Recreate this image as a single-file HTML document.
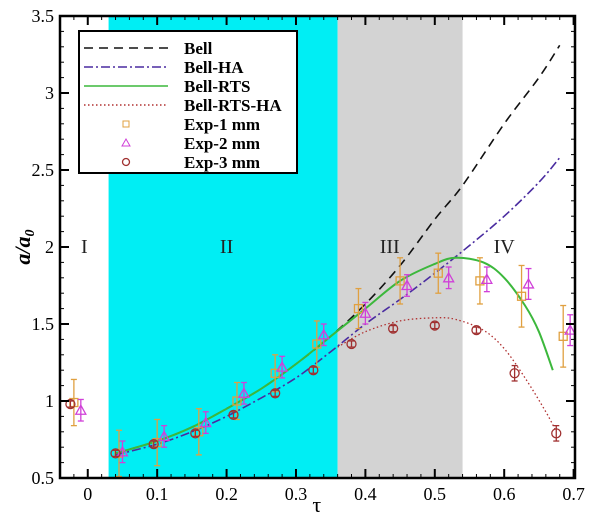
<!DOCTYPE html>
<html><head><meta charset="utf-8"><style>
body{margin:0;background:#fff;}
svg text{font-family:"Liberation Serif",serif;}
</style></head><body>
<svg width="600" height="521" viewBox="0 0 600 521" xmlns="http://www.w3.org/2000/svg">
<g id="bg"></g><g id="grid"></g><g id="curves"></g><g id="pts"></g><g id="axes"></g>
</svg>
<script>
const xTicks=[0,0.1,0.2,0.3,0.4,0.5,0.6,0.7];
const yTicks=[0.5,1,1.5,2,2.5,3,3.5];
const regions=[[0.03,0.36,'#00eef4'],[0.36,0.54,'#d3d3d3']];
const regionLabels=[['I',-0.005,2],['II',0.2,2],['III',0.435,2],['IV',0.6,2]];
const bellX=[0.04,0.1,0.15,0.2,0.25,0.3,0.35,0.4,0.45,0.5,0.54,0.6,0.65,0.68];
const bellY=[0.66,0.74,0.83,0.95,1.08,1.24,1.42,1.63,1.88,2.18,2.4,2.8,3.1,3.31];
const haX=[0.04,0.1,0.15,0.2,0.25,0.3,0.35,0.4,0.45,0.5,0.55,0.6,0.65,0.68];
const haY=[0.65,0.72,0.8,0.9,1.02,1.15,1.32,1.5,1.66,1.83,2.01,2.2,2.42,2.58];
const rtsX=[0.04,0.1,0.15,0.2,0.25,0.3,0.35,0.4,0.45,0.5,0.53,0.57,0.6,0.63,0.65,0.67];
const rtsY=[0.66,0.74,0.83,0.95,1.08,1.24,1.42,1.6,1.78,1.89,1.93,1.9,1.8,1.62,1.45,1.2];
const rhaX=[0.36,0.4,0.45,0.5,0.53,0.57,0.6,0.63,0.66,0.675];
const rhaY=[1.35,1.45,1.52,1.54,1.53,1.46,1.34,1.15,0.93,0.8];
const e1X=[-0.02,0.045,0.1,0.16,0.215,0.27,0.33,0.39,0.45,0.505,0.565,0.625,0.685];
const e1Y=[0.99,0.66,0.73,0.8,1.0,1.18,1.37,1.6,1.78,1.83,1.78,1.68,1.42];
const e1E=[0.15,0.15,0.15,0.15,0.12,0.12,0.15,0.13,0.15,0.13,0.15,0.2,0.2];
const e2X=[-0.01,0.05,0.11,0.17,0.225,0.28,0.34,0.4,0.46,0.52,0.575,0.635,0.695];
const e2Y=[0.94,0.67,0.77,0.86,1.05,1.22,1.43,1.57,1.75,1.8,1.79,1.76,1.46];
const e2E=[0.07,0.07,0.07,0.07,0.07,0.07,0.07,0.07,0.07,0.07,0.08,0.1,0.1];
const e3X=[-0.025,0.04,0.095,0.155,0.21,0.27,0.325,0.38,0.44,0.5,0.56,0.615,0.675];
const e3Y=[0.98,0.66,0.72,0.79,0.91,1.05,1.2,1.37,1.47,1.49,1.46,1.18,0.79];
const e3E=[0.02,0.02,0.02,0.02,0.02,0.02,0.02,0.02,0.02,0.02,0.02,0.05,0.05];
const X0=60,X1=575,Y0=478,Y1=16,xmin=-0.04,xmax=0.702,ymin=0.5,ymax=3.5;
const sx=v=>X0+(v-xmin)/(xmax-xmin)*(X1-X0);
const sy=v=>Y0-(v-ymin)/(ymax-ymin)*(Y0-Y1);
const NS='http://www.w3.org/2000/svg';
function mk(p,t,a){const e=document.createElementNS(NS,t);for(const k in a)e.setAttribute(k,a[k]);document.getElementById(p).appendChild(e);return e;}
regions.forEach((r,i)=>{const e=mk('bg','rect',{x:sx(r[0]),y:Y1,width:sx(r[1])-sx(r[0]),height:Y0-Y1,fill:r[2]});

});
regionLabels.forEach(l=>{const e=mk('bg','text',{x:sx(l[1]),y:sy(l[2])+6,'font-size':20,'text-anchor':'middle',fill:'#222'});e.textContent=l[0];

});
function line(xs,ys,st,name){const P=xs.map((x,i)=>[sx(x),sy(ys[i])]);
let d='M'+P[0][0].toFixed(1)+','+P[0][1].toFixed(1);
for(let i=0;i<P.length-1;i++){const p0=P[Math.max(0,i-1)],p1=P[i],p2=P[i+1],p3=P[Math.min(P.length-1,i+2)];
const c1=[p1[0]+(p2[0]-p0[0])/6,p1[1]+(p2[1]-p0[1])/6],c2=[p2[0]-(p3[0]-p1[0])/6,p2[1]-(p3[1]-p1[1])/6];
d+=`C${c1[0].toFixed(1)},${c1[1].toFixed(1)} ${c2[0].toFixed(1)},${c2[1].toFixed(1)} ${p2[0].toFixed(1)},${p2[1].toFixed(1)}`;}
const e=mk('curves','path',Object.assign({d:d,fill:'none'},st));

}
line(bellX,bellY,{stroke:'#111','stroke-width':1.6,'stroke-dasharray':'9,6'},'bell-line');
line(haX,haY,{stroke:'#4a2ca0','stroke-width':1.6,'stroke-dasharray':'9,3,2,3'},'bell-ha-line');
line(rtsX,rtsY,{stroke:'#3cb83c','stroke-width':2},'bell-rts-line');
line(rhaX,rhaY,{stroke:'#b03030','stroke-width':1.3,'stroke-dasharray':'1.5,2.5'},'bell-rts-ha-line');
function series(xs,ys,es,col,shape,name){xs.forEach((x,i)=>{const cx=sx(x),cy=sy(ys[i]),t=sy(ys[i]+es[i]),b=sy(ys[i]-es[i]);
const g=mk('pts','g',{stroke:col,fill:'none','stroke-width':1.3});


g.innerHTML=`<line x1="${cx}" y1="${t}" x2="${cx}" y2="${b}"/><line x1="${cx-3}" y1="${t}" x2="${cx+3}" y2="${t}"/><line x1="${cx-3}" y1="${b}" x2="${cx+3}" y2="${b}"/>`+
(shape=='s'?`<rect x="${cx-4}" y="${cy-4}" width="8" height="8"/>`:shape=='t'?`<polygon points="${cx},${cy-5} ${cx-5},${cy+4} ${cx+5},${cy+4}"/>`:`<circle cx="${cx}" cy="${cy}" r="4.5"/>`);});}
series(e1X,e1Y,e1E,'#e0a040','s','exp-1mm');
series(e2X,e2Y,e2E,'#d040d8','t','exp-2mm');
series(e3X,e3Y,e3E,'#a03030','c','exp-3mm');
mk('axes','rect',{x:X0,y:Y1,width:X1-X0,height:Y0-Y1,fill:'none',stroke:'#000','stroke-width':2.5});
for(let v=-0.04;v<=0.705;v+=0.02){const x=sx(Math.round(v*100)/100);mk('axes','line',{x1:x,y1:Y0,x2:x,y2:Y0-4,stroke:'#000'});mk('axes','line',{x1:x,y1:Y1,x2:x,y2:Y1+4,stroke:'#000'});}
xTicks.forEach(v=>{const x=sx(v);mk('axes','line',{x1:x,y1:Y0,x2:x,y2:Y0-9,stroke:'#000','stroke-width':2});mk('axes','line',{x1:x,y1:Y1,x2:x,y2:Y1+9,stroke:'#000','stroke-width':2});
const t=mk('axes','text',{x:x,y:Y0+22,'font-size':18,'text-anchor':'middle'});t.textContent=v;

});
for(let v=0.5;v<=3.5;v+=0.1){const y=sy(v);mk('axes','line',{x1:X0,y1:y,x2:X0+4,y2:y,stroke:'#000'});mk('axes','line',{x1:X1,y1:y,x2:X1-4,y2:y,stroke:'#000'});}
yTicks.forEach(v=>{const y=sy(v);mk('axes','line',{x1:X0,y1:y,x2:X0+9,y2:y,stroke:'#000','stroke-width':2});mk('axes','line',{x1:X1,y1:y,x2:X1-9,y2:y,stroke:'#000','stroke-width':2});
const t=mk('axes','text',{x:X0-6,y:y+6,'font-size':18,'text-anchor':'end'});t.textContent=v;

});
const xt=mk('axes','text',{x:sx(0.33),y:512,'font-size':22,'text-anchor':'middle'});xt.textContent='τ';


const yt=mk('axes','text',{x:0,y:0,'font-size':22,'font-weight':'bold','font-style':'italic','text-anchor':'middle',transform:'translate(30,247) rotate(-90)'});
yt.innerHTML='a/a<tspan font-size="14" dy="4">0</tspan>';


const lg=mk('axes','g',{});


let h=`<rect x="79" y="31" width="218" height="142" fill="#fff" stroke="#000" stroke-width="2"/>`;
const ents=[['Bell','#111','9,6'],['Bell-HA','#4a2ca0','9,3,2,3'],['Bell-RTS','#3cb83c',''],['Bell-RTS-HA','#b03030','1.5,2.5'],['Exp-1 mm','#e0a040','s'],['Exp-2 mm','#d040d8','t'],['Exp-3 mm','#a03030','c']];
ents.forEach((e,i)=>{const y=48+i*19;
if(i<4)h+=`<line x1="84" y1="${y}" x2="168" y2="${y}" stroke="${e[1]}" stroke-width="1.6" stroke-dasharray="${e[2]}"/>`;
else{const c=126;h+=e[2]=='s'?`<rect x="${c-3}" y="${y-3}" width="6" height="6" fill="none" stroke="${e[1]}"/>`:e[2]=='t'?`<polygon points="${c},${y-4} ${c-4},${y+3} ${c+4},${y+3}" fill="none" stroke="${e[1]}"/>`:`<circle cx="${c}" cy="${y}" r="3.5" fill="none" stroke="${e[1]}" stroke-width="1.3"/>`;}
h+=`<text x="184" y="${y+6}" font-size="17" font-weight="bold">${e[0]}</text>`;});
lg.innerHTML=h;
</script>
</body></html>
